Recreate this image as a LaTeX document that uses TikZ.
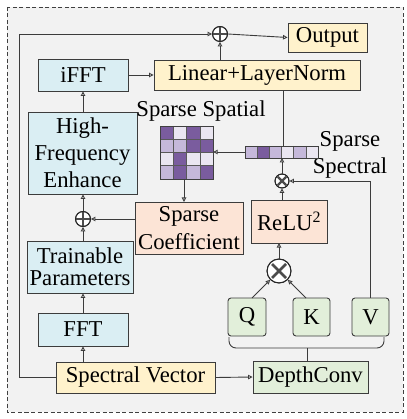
\documentclass[tikz,border=0pt]{standalone}
\usepackage{fontspec}
\setmainfont{Liberation Serif}
\usetikzlibrary{arrows.meta}
\definecolor{bgc}{HTML}{F2F2F2}
\definecolor{bluef}{HTML}{DAEEF3}
\definecolor{yelf}{HTML}{FFF2CC}
\definecolor{peachf}{HTML}{FCE4D6}
\definecolor{greenf}{HTML}{E2EFDA}
\definecolor{lnc}{HTML}{3C3C3C}
\definecolor{pdark}{HTML}{7A5C9E}
\definecolor{pmid}{HTML}{C5B8DA}
\definecolor{plight}{HTML}{EAE6F1}
\tikzset{
  box/.style={draw=lnc, line width=0.9pt, inner sep=0pt, align=center, text=black,
    font=\fontsize{22.7}{27}\selectfont},
  bluebox/.style={box, fill=bluef},
  yelbox/.style={box, fill=yelf},
  peachbox/.style={box, fill=peachf},
  greenbox/.style={box, fill=greenf},
  conn/.style={draw=lnc, line width=0.9pt, -{Triangle[open,length=4.5pt,width=4.5pt]}},
  plain/.style={draw=lnc, line width=0.9pt},
  opcirc/.style={circle, draw=black!85, fill=white, line width=0.9pt, inner sep=0pt},
  lbl/.style={inner sep=0pt, align=center, text=black, font=\fontsize{22.7}{27}\selectfont},
  cell/.style={draw=black!65, line width=0.5pt}
}
\begin{document}
\begin{tikzpicture}[x=1pt,y=-1pt]
\useasboundingbox (0,0) rectangle (406,419);
\draw[draw=black!75, line width=0.9pt, fill=bgc, dash pattern=on 4pt off 2.5pt] (7,7) rectangle (403,412);

% nodes
\node[bluebox, minimum width=90pt, minimum height=32pt] (ifft) at (83,75) {iFFT};
\node[yelbox, minimum width=206pt, minimum height=30pt] (lin) at (257,75) {Linear+LayerNorm};
\node[yelbox, minimum width=79pt, minimum height=29pt] (out) at (327.5,37.5) {Output};
\node[opcirc, minimum size=15pt] (plusT) at (220,34) {};
\draw[line width=2.2pt, black!70] (plusT.north) -- (plusT.south) (plusT.west) -- (plusT.east);
\draw[line width=0.9pt, black!85] (plusT) circle (7.5pt);

\node[bluebox, minimum width=109pt, minimum height=82pt] (hfe) at (82.5,153) {High-\\Frequency\\Enhance};
\node[opcirc, minimum size=15pt] (plusM) at (83,219) {};
\draw[line width=2.2pt, black!70] (plusM.north) -- (plusM.south) (plusM.west) -- (plusM.east);
\draw[line width=0.9pt, black!85] (plusM) circle (7.5pt);

\node[bluebox, minimum width=106pt, minimum height=52pt, font=\fontsize{22.7}{22}\selectfont] (tp) at (80,267) {Trainable\\Parameters};
\node[bluebox, minimum width=90pt, minimum height=33pt] (fft) at (83,329.5) {FFT};
\node[yelbox, minimum width=159pt, minimum height=31pt] (sv) at (135.5,377.5) {Spectral Vector};

\node[peachbox, minimum width=108pt, minimum height=52pt, font=\fontsize{22.7}{28}\selectfont] (sc) at (189,228) {Sparse\\Coefficient};
\node[peachbox, minimum width=76pt, minimum height=43pt] (relu) at (289,221.5) {ReLU\textsuperscript{2}};

\node[lbl] (lsp) at (201,111) {Sparse Spatial};
\node[lbl] (lss) at (350,155) {Sparse\\Spectral};

% grid 4x4
\def\gx{160}\def\gy{126}\def\gc{13.25}
\foreach \i/\j/\c in {0/0/pdark,1/0/plight,2/0/pdark,3/0/plight,
                      0/1/pmid,1/1/pmid,2/1/pdark,3/1/pdark,
                      0/2/plight,1/2/pdark,2/2/plight,3/2/plight,
                      0/3/pmid,1/3/pdark,2/3/pmid,3/3/pdark}{
  \fill[\c] ({\gx+\i*\gc},{\gy+\j*\gc}) rectangle ++(\gc,\gc);
}
\foreach \i in {1,2,3}{
  \draw[cell] ({\gx+\i*\gc},\gy) -- ({\gx+\i*\gc},{\gy+4*\gc});
  \draw[cell] (\gx,{\gy+\i*\gc}) -- ({\gx+4*\gc},{\gy+\i*\gc});
}
\draw[line width=0.9pt, black!75] (\gx,\gy) rectangle ({\gx+4*\gc},{\gy+4*\gc});
\node[inner sep=0pt, minimum width=53pt, minimum height=53pt] (gridn) at (186.5,152.5) {};

% vector 1x6
\def\vx{245}\def\vy{146}\def\vc{12.17}
\foreach \i/\c in {0/pmid,1/pdark,2/pmid,3/plight,4/pmid,5/plight}{
  \fill[\c] ({\vx+\i*\vc},\vy) rectangle ++(\vc,12);
}
\foreach \i in {1,...,5}{
  \draw[cell] ({\vx+\i*\vc},\vy) -- ++(0,12);
}
\draw[line width=0.8pt, black!75] (\vx,\vy) rectangle ({\vx+6*\vc},{\vy+12});
\node[inner sep=0pt, minimum width=73pt, minimum height=12pt] (vec) at (281.5,152) {};

% multiply circles
\node[opcirc, minimum size=14pt] (multS) at (282,181) {};
\draw[line width=2.2pt, black!70] (277.8,185.2) -- (286.2,176.8);
\draw[line width=2.2pt, black!70] (277.8,176.8) -- (286.2,185.2);
\draw[line width=0.9pt, black!85] (multS) circle (7pt);

\node[opcirc, minimum size=24pt] (multB) at (279,271) {};
\draw[line width=2.6pt, black!70] (272,264) -- (286,278) (272,278) -- (286,264);
\draw[line width=0.9pt, black!85] (multB) circle (12pt);

% QKV
\node[greenbox, rounded corners=3pt, minimum width=38pt, minimum height=38pt] (q) at (247,317) {Q};
\node[greenbox, rounded corners=3pt, minimum width=37pt, minimum height=38pt] (k) at (311.5,317) {K};
\node[greenbox, rounded corners=3pt, minimum width=37pt, minimum height=38pt] (v) at (370.5,317) {V};
\node[greenbox, minimum width=115pt, minimum height=32pt] (dc) at (310.5,377) {DepthConv};

% connectors
\draw[conn] (sv.west) -- (19,377.5) -- (19,34) -- (plusT.west);
\draw[conn] (plusT.east) -- (out.west);
\draw[conn] (lin.north -| plusT) -- (plusT.south);
\draw[conn] (ifft.east) -- (lin.west);
\draw[conn] (hfe.north -| ifft) -- (ifft.south);
\draw[conn] (plusM.north) -- (hfe.south -| plusM);
\draw[conn] (tp.north -| plusM) -- (plusM.south);
\draw[conn] (fft.north) -- (tp.south -| fft);
\draw[conn] (sv.north -| fft) -- (fft.south);
\draw[conn] (sc.west |- plusM) -- (plusM.east);
\draw[conn] (184,179) -- (184,202);
\draw[conn] (vec.west) -- (vec.west -| gridn.east);
\draw[plain] (283,146) -- (283,90);
\draw[conn] (relu.north -| multS) -- (multS.south);
\draw[conn] (multS.north) -- (282,158);
\draw[conn] (v.north) -- (370.5,181) -- (multS.east);
\draw[conn] (multB.north) -- (279,243);
\draw[conn] (252,298) -- (multB.south west);
\draw[conn] (306,298) -- (multB.south east);
\draw[conn] (sv.east) -- (dc.west);
\draw[plain, rounded corners=7pt] (229,337) -- (229,348) -- (384,348) -- (384,337);
\draw[plain] (307,348) -- (307,361);
\end{tikzpicture}
\end{document}
